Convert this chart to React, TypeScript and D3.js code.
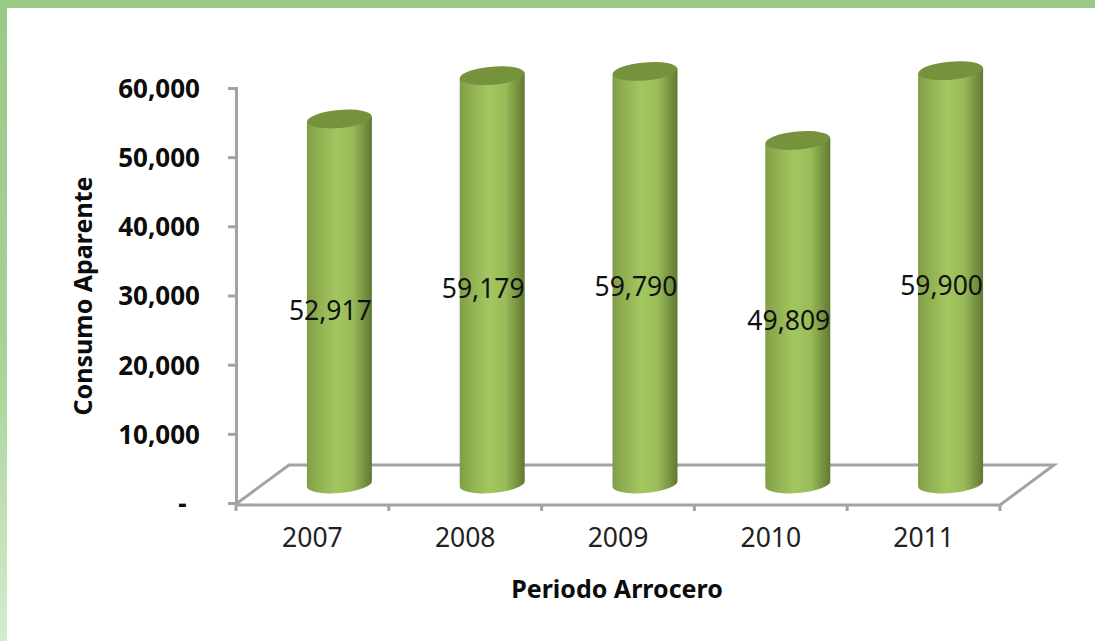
import React, { useEffect, useRef } from "react";
import * as d3 from "d3";

const years = ["2007", "2008", "2009", "2010", "2011"];
const consumo = [52917, 59179, 59790, 49809, 59900];
const yTicks = [0, 10000, 20000, 30000, 40000, 50000, 60000];

function App() {
  const ref = useRef<SVGSVGElement>(null);
  const width = 1095;
  const height = 641;
  const font = "'Noto Sans', sans-serif";

  useEffect(() => {
    const svg = d3.select(ref.current);
    svg.selectAll("*").remove();

    const marginLeft = 236;
    const plotRight = 1000;
    const y0 = 503;
    const yTop = 88;
    // depth of the 3D floor
    const depthX = 53;
    const depthY = 40;
    const rx = 32.5;
    const ry = 9;
    const tilt = -5;
    const lineColor = "#a3a3a3";

    const x = d3.scaleBand().domain(years).range([marginLeft, plotRight]);
    const y = d3.scaleLinear().domain([0, 60000]).range([y0, yTop]);

    const defs = svg.append("defs");
    const cyl = defs.append("linearGradient").attr("id", "cyl");
    [
      [0, "#7f9d46"],
      [0.12, "#8cab4e"],
      [0.45, "#a3c760"],
      [0.7, "#99bb59"],
      [0.9, "#748f3e"],
      [1, "#5f7a32"],
    ].forEach(([o, c]) => cyl.append("stop").attr("offset", o).attr("stop-color", c));

    const side = defs
      .append("linearGradient")
      .attr("id", "side")
      .attr("x1", 0)
      .attr("x2", 0)
      .attr("y1", 0)
      .attr("y2", 1);
    side.append("stop").attr("offset", 0).attr("stop-color", "#98ca86");
    side.append("stop").attr("offset", 0.55).attr("stop-color", "#a6d396");
    side.append("stop").attr("offset", 1).attr("stop-color", "#d5ebcd");

    // slide frame
    svg.append("rect").attr("width", width).attr("height", height).attr("fill", "#fff");
    svg.append("rect").attr("width", 7).attr("height", height).attr("fill", "url(#side)");
    svg.append("rect").attr("width", width).attr("height", 8).attr("fill", "#98ca86");

    const floor = d3.path();
    floor.moveTo(marginLeft, y0 + 1);
    floor.lineTo(marginLeft + depthX, y0 - depthY + 2);
    floor.lineTo(plotRight + depthX + 1, y0 - depthY + 2);
    floor.lineTo(plotRight, y0 + 2);
    floor.lineTo(marginLeft, y0 + 2);
    svg
      .append("path")
      .attr("d", floor.toString())
      .attr("fill", "none")
      .attr("stroke", lineColor)
      .attr("stroke-width", 3);

    // value axis
    svg
      .append("g")
      .attr("transform", `translate(${marginLeft},0)`)
      .call(
        d3
          .axisLeft(y)
          .tickValues(yTicks)
          .tickSize(8)
          .tickPadding(28)
          .tickFormat((d) => (d === 0 ? "-\u00a0\u00a0" : d3.format(",")(d as number)))
      )
      .call((g) => {
        g.selectAll("path, line").attr("stroke", lineColor).attr("stroke-width", 3);
        g.selectAll("text")
          .attr("fill", "#0c0c0c")
          .attr("font-family", font)
          .attr("font-size", 26)
          .attr("font-weight", 700)
          .attr("dy", "0.36em");
      });

    // category axis, ticks sit between the categories
    const xAxis = svg
      .append("g")
      .attr("transform", `translate(0,${y0 + 2})`)
      .call(d3.axisBottom(x).tickSize(0).tickPadding(23))
      .call((g) => {
        g.select(".domain").remove();
        g.selectAll("text")
          .attr("fill", "#222")
          .attr("font-family", font)
          .attr("font-size", 26.5);
      });
    xAxis
      .selectAll("line.sep")
      .data([...years.map((d) => x(d) as number), plotRight])
      .join("line")
      .attr("class", "sep")
      .attr("x1", (d) => d)
      .attr("x2", (d) => d)
      .attr("y1", 0)
      .attr("y2", 6)
      .attr("stroke", lineColor)
      .attr("stroke-width", 3);

    // cylinders
    const cx = (d: string) => (x(d) as number) + x.bandwidth() / 2 + depthX / 2 + 0.5;
    const yBase = y0 - depthY / 2 + 1;
    const dyTilt = rx * Math.sin((-tilt * Math.PI) / 180);
    const topY = (v: number) => yBase - (y0 - y(v)) + 1;

    const bars = svg
      .append("g")
      .selectAll("g")
      .data(years.map((d, i) => ({ year: d, value: consumo[i] })))
      .join("g");

    bars
      .append("path")
      .attr("fill", "url(#cyl)")
      .attr("d", (d) => {
        const c = cx(d.year);
        const t = topY(d.value);
        return (
          `M${c - rx},${t + dyTilt}` +
          `L${c - rx},${yBase + dyTilt}` +
          `A${rx},${ry} ${tilt} 0 0 ${c + rx},${yBase - dyTilt}` +
          `L${c + rx},${t - dyTilt}Z`
        );
      });

    bars
      .append("ellipse")
      .attr("rx", rx)
      .attr("ry", ry)
      .attr("fill", "#76923c")
      .attr("transform", (d) => `translate(${cx(d.year)},${topY(d.value)}) rotate(${tilt})`);

    bars
      .append("text")
      .attr("x", (d) => cx(d.year) - 9)
      .attr("y", (d) => y(d.value / 2) - 10)
      .attr("dy", "0.36em")
      .attr("text-anchor", "middle")
      .attr("fill", "#111")
      .attr("font-family", font)
      .attr("font-size", 26.5)
      .text((d) => d3.format(",")(d.value));

    // axis titles
    svg
      .append("text")
      .attr("transform", "translate(83,296) rotate(-90)")
      .attr("text-anchor", "middle")
      .attr("dy", "0.36em")
      .attr("fill", "#0c0c0c")
      .attr("font-family", font)
      .attr("font-size", 25)
      .attr("font-weight", 700)
      .text("Consumo Aparente");
    svg
      .append("text")
      .attr("x", 617)
      .attr("y", 589)
      .attr("text-anchor", "middle")
      .attr("dy", "0.36em")
      .attr("fill", "#0c0c0c")
      .attr("font-family", font)
      .attr("font-size", 25)
      .attr("font-weight", 700)
      .text("Periodo Arrocero");
  }, []);

  return (
    <svg
      ref={ref}
      width={width}
      height={height}
      style={{ position: "absolute", left: 0, top: 0 }}
    ></svg>
  );
}

export default App;
